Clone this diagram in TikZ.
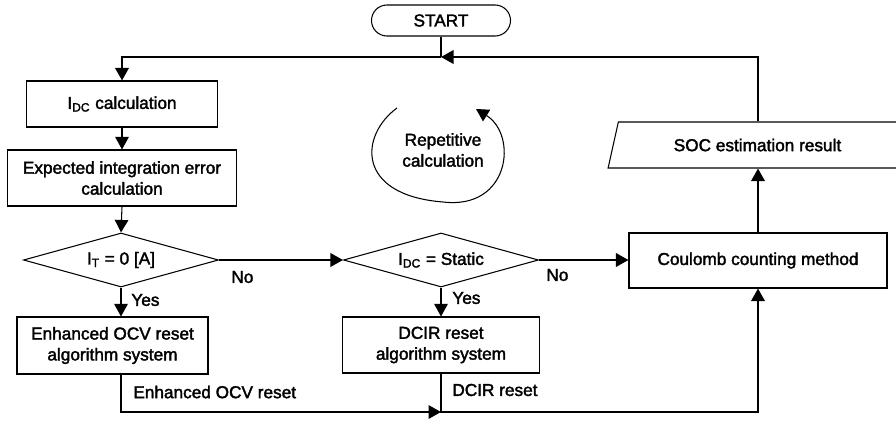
\documentclass[tikz,border=0pt]{standalone}
\usepackage{fontspec}
\setmainfont[FakeBold=2]{Liberation Sans}
\usetikzlibrary{shapes.geometric, arrows.meta}

\begin{document}
\begin{tikzpicture}[x=0.2mm, y=0.2mm, font=\fontsize{9.8}{11.9}\selectfont,
    box/.style={draw, line width=0.6pt, align=center, inner sep=0pt},
    decision/.style={draw, diamond, line width=0.6pt, aspect=3.6, inner sep=0pt,
        minimum width=39mm, minimum height=10.8mm},
    flow/.style={line width=1.1pt},
    thinflow/.style={line width=0.6pt},
    arr/.style={-{Triangle[length=2.5mm, width=2.7mm]}}]
    \useasboundingbox (0,0) rectangle (896,420);

    % Blocks
    \node[box, rounded corners=3.1mm, minimum width=27.8mm, minimum height=6.2mm] (start) at (441,399.5) {START};
    \node[box, minimum width=38.2mm, minimum height=9.2mm] (idc) at (122,316) {I\textsubscript{DC} calculation};
    \node[box, minimum width=45.8mm, minimum height=11.2mm] (err) at (122,242) {Expected integration error\\calculation};
    \node[decision] (d1) at (121,160) {I\textsubscript{T} = 0 [A]};
    \node[decision] (d2) at (441,160) {I\textsubscript{DC} = Static};
    \node[box, minimum width=38.2mm, minimum height=11.4mm] (enh) at (112.5,74.5) {Enhanced OCV reset\\algorithm system};
    \node[box, minimum width=39.4mm, minimum height=11.2mm] (dcir) at (441,75) {DCIR reset\\algorithm system};
    \node[box, minimum width=51.6mm, minimum height=11mm] (coul) at (758,159.5) {Coulomb counting method};
    \node[draw, line width=0.6pt, trapezium, trapezium left angle=64, trapezium right angle=116,
        trapezium stretches=true, inner sep=0pt, minimum width=59.8mm, minimum height=9.2mm] (soc) at (757.5,275) {SOC estimation result};

    % Junctions
    \coordinate (top) at (441,363);
    \coordinate (join) at (441,8);

    % Connectors
    \draw[flow] (start.south) -- (top);
    \draw[flow, arr] (top) -| (idc.north);
    \draw[thinflow, arr] (idc.south) -- (err.north);
    \draw[thinflow, arr] (err.south) -- (d1.north);
    \draw[flow, arr] (d1.east) -- (d2.west);
    \draw[flow, arr] (d2.east) -- (d2.east -| coul.west);
    \draw[thinflow, arr] (d1.south) -- (d1.south |- enh.north);
    \draw[thinflow, arr] (d2.south) -- (dcir.north);
    \draw[flow, arr] (enh.south -| d1.south) |- (join);
    \draw[flow, arr] (dcir.south) -- (join) -| (coul.south);
    \draw[flow, arr] (coul.north) -- (coul.north |- soc.south);
    \draw[flow, arr] (coul.north |- soc.north) |- (top);

    % Loop marker
    \node[align=center] (rep) at (443,270) {Repetitive\\calculation};
    \draw[thinflow, arr] (397,312) .. controls (360,285) and (355,225) .. (443,218)
        .. controls (510,210) and (518,285) .. (476,311);

    % Branch labels
    \node[anchor=west, inner sep=0pt] (yes1) at (131,120) {Yes};
    \node[anchor=west, inner sep=0pt] (yes2) at (452,122) {Yes};
    \node[anchor=west, inner sep=0pt] (no1) at (231,143) {No};
    \node[anchor=west, inner sep=0pt] (no2) at (546,145) {No};
    \node[anchor=west, inner sep=0pt] (enhlbl) at (133,28) {Enhanced OCV reset};
    \node[anchor=west, inner sep=0pt] (dcirlbl) at (452,30) {DCIR reset};
\end{tikzpicture}
\end{document}
